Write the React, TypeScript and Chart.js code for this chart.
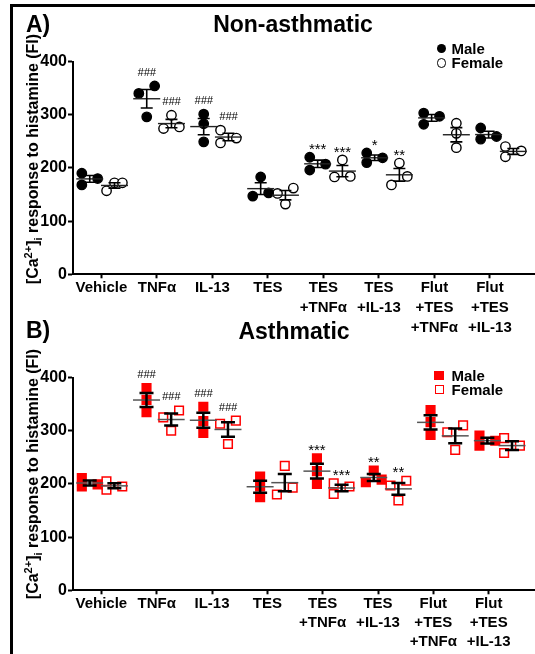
import React, { useEffect, useRef } from 'react';
import { Chart, registerables } from 'chart.js';

Chart.register(...registerables);

const FONT = '"Liberation Sans", Arial, Helvetica, sans-serif';

// ---- data ----
const categories: string[][] = [
  ['Vehicle'],
  ['TNFα'],
  ['IL-13'],
  ['TES'],
  ['TES', '+TNFα'],
  ['TES', '+IL-13'],
  ['Flut', '+TES', '+TNFα'],
  ['Flut', '+TES', '+IL-13'],
];

const nonAsthmaticMale: number[][] = [
  [190, 168, 180], [340, 354, 296], [301, 283, 249], [183, 147, 153],
  [220, 196, 207], [228, 210, 219], [303, 282, 297], [275, 254, 259],
];
const nonAsthmaticFemale: number[][] = [
  [157, 172, 172], [274, 299, 277], [271, 256, 247], [152, 132, 162],
  [215, 183, 184], [209, 168, 184], [284, 265, 238], [240, 221, 232],
];
const asthmaticMale: number[][] = [
  [211, 195, 199], [380, 358, 335], [345, 318, 296], [214, 195, 175],
  [248, 224, 200], [203, 225, 208], [339, 316, 292], [291, 272, 281],
];
const asthmaticFemale: number[][] = [
  [189, 205, 195], [325, 300, 338], [313, 275, 319], [180, 193, 234],
  [201, 181, 195], [197, 169, 206], [297, 310, 264], [286, 258, 272],
];

const nonAsthmaticMaleMarks = ['', '###', '###', '', '***', '*', '', ''];
const nonAsthmaticFemaleMarks = ['', '###', '###', '', '***', '**', '', ''];
const asthmaticMaleMarks = ['', '###', '###', '', '***', '**', '', ''];
const asthmaticFemaleMarks = ['', '###', '###', '', '***', '**', '', ''];

const yTickValues = [0, 100, 200, 300, 400];

// ---- layout constants ----
const CANVAS_W = 580;
const CANVAS_H = 345;
const Y_AXIS_W = 73;
const PAD_TOP = 61.5;
const X_AXIS_H = 70.7;
const X_MIN = -0.511;
const X_MAX = 8.28;
const TICK_STEP = 0.974;
const TICK_SHIFT = -0.012;
const SEX_OFFSET = 0.217;
const SLOT_STEP = 0.139;

type PanelStyle = {
  shape: 'circle' | 'rect';
  maleFill: string;
  femaleFill: string;
  stroke: string;
  radius: number;
  border: number;
  threshold: number;
  meanColor: string;
  meanWidth: number;
  barWidth: number;
  capHalf: number;
  meanHalf: number;
  markerHalf: number;
  lineHeight: number;
};

const circleStyle: PanelStyle = {
  shape: 'circle', maleFill: '#000', femaleFill: '#fff', stroke: '#000',
  radius: 4.7, border: 1.4, threshold: 17,
  meanColor: '#222', meanWidth: 1.4, barWidth: 1.6, capHalf: 6, meanHalf: 13.5, markerHalf: 5,
  lineHeight: 20,
};
const squareStyle: PanelStyle = {
  shape: 'rect', maleFill: '#ff0000', femaleFill: '#fff', stroke: '#ff0000',
  radius: 6.1, border: 1.5, threshold: 15,
  meanColor: '#555', meanWidth: 1.5, barWidth: 2.5, capHalf: 7, meanHalf: 13.5, markerHalf: 5,
  lineHeight: 19,
};

function slotsFor(vals: number[], thr: number): number[] {
  const order = vals.map((_, k) => k).sort((a, b) => vals[a] - vals[b]);
  const col: number[] = new Array(vals.length).fill(0);
  const last: number[] = [];
  for (const k of order) {
    let c = 0;
    while (last[c] !== undefined && vals[k] - last[c] < thr) c++;
    col[k] = c;
    last[c] = vals[k];
  }
  const isolated = vals.map((v, k) => vals.every((w, j) => j === k || Math.abs(w - v) >= thr));
  const used = Array.from(new Set(col.filter((_, k) => !isolated[k]))).sort();
  const n = used.length;
  return col.map((c, k) => {
    if (isolated[k] || n <= 1) return 0;
    const idx = used.indexOf(c);
    if (n === 2) return idx === 0 ? -1 : 1;
    return idx - (n - 1) / 2;
  });
}

function makePanel(
  canvas: HTMLCanvasElement,
  male: number[][],
  female: number[][],
  maleMarks: string[],
  femaleMarks: string[],
  st: PanelStyle,
) {
  const toPoints = (groups: number[][], off: number) =>
    groups.flatMap((vals, i) => {
      const s = slotsFor(vals, st.threshold);
      return vals.map((v, k) => ({ x: i + off + s[k] * SLOT_STEP, y: v }));
    });

  const statsPlugin = {
    id: 'groupStats',
    afterDatasetsDraw(chart: any) {
      const ctx: CanvasRenderingContext2D = chart.ctx;
      const xs = chart.scales.x;
      const ys = chart.scales.y;
      ctx.save();
      const sets: [number[][], number, string[]][] = [
        [male, -SEX_OFFSET, maleMarks],
        [female, SEX_OFFSET, femaleMarks],
      ];
      sets.forEach(([groups, off, marks]) => {
        groups.forEach((vals, i) => {
          const n = vals.length;
          const mean = vals.reduce((a, b) => a + b, 0) / n;
          const sd = Math.sqrt(vals.reduce((a, b) => a + (b - mean) ** 2, 0) / (n - 1));
          const sem = sd / Math.sqrt(n);
          const cx = xs.getPixelForValue(i + off);
          const py = ys.getPixelForValue(mean);
          const pTop = ys.getPixelForValue(mean + sem);
          const pBot = ys.getPixelForValue(mean - sem);
          ctx.strokeStyle = st.meanColor;
          ctx.lineWidth = st.meanWidth;
          ctx.beginPath();
          ctx.moveTo(cx - st.meanHalf, py);
          ctx.lineTo(cx + st.meanHalf, py);
          ctx.stroke();
          ctx.strokeStyle = '#000';
          ctx.lineWidth = st.barWidth;
          ctx.beginPath();
          ctx.moveTo(cx, pTop);
          ctx.lineTo(cx, pBot);
          ctx.moveTo(cx - st.capHalf, pTop);
          ctx.lineTo(cx + st.capHalf, pTop);
          ctx.moveTo(cx - st.capHalf, pBot);
          ctx.lineTo(cx + st.capHalf, pBot);
          ctx.stroke();
          const mark = marks[i];
          if (mark) {
            const topPx = ys.getPixelForValue(Math.max(...vals)) - st.markerHalf;
            const isHash = mark[0] === '#';
            ctx.fillStyle = '#000';
            ctx.textAlign = 'center';
            ctx.textBaseline = 'alphabetic';
            ctx.font = isHash ? `italic 11px ${FONT}` : `15px ${FONT}`;
            ctx.fillText(mark, cx, isHash ? topPx - 5 : topPx + 1.6);
          }
        });
      });
      ctx.restore();
    },
  };

  return new Chart(canvas, {
    type: 'scatter',
    data: {
      datasets: [
        {
          label: 'Male',
          data: toPoints(male, -SEX_OFFSET),
          pointStyle: st.shape,
          pointRadius: st.radius,
          backgroundColor: st.maleFill,
          borderColor: st.stroke,
          borderWidth: st.border,
        },
        {
          label: 'Female',
          data: toPoints(female, SEX_OFFSET),
          pointStyle: st.shape,
          pointRadius: st.radius,
          backgroundColor: st.femaleFill,
          borderColor: st.stroke,
          borderWidth: st.border,
        },
      ],
    },
    options: {
      responsive: false,
      animation: false,
      events: [],
      layout: { padding: { top: PAD_TOP, left: 0, right: 0, bottom: 0 } },
      plugins: { legend: { display: false }, tooltip: { enabled: false } },
      scales: {
        x: {
          type: 'linear',
          min: X_MIN,
          max: X_MAX,
          bounds: 'data',
          afterBuildTicks: (scale: any) => {
            scale.ticks = categories.map((_, i) => ({ value: i * TICK_STEP + TICK_SHIFT }));
          },
          afterFit: (scale: any) => {
            scale.height = X_AXIS_H;
          },
          ticks: {
            autoSkip: false,
            maxRotation: 0,
            minRotation: 0,
            padding: 0,
            color: '#000',
            font: { family: FONT, size: 15, weight: 'bold', lineHeight: st.lineHeight / 15 },
            callback: (_v: any, idx: number) => categories[idx],
          },
          grid: {
            display: true,
            drawOnChartArea: false,
            drawTicks: true,
            tickLength: 4,
            tickWidth: 2,
            tickColor: '#000',
          },
          border: { display: true, color: '#000', width: 2 },
        },
        y: {
          min: 0,
          max: 400,
          afterBuildTicks: (scale: any) => {
            scale.ticks = yTickValues.map((v) => ({ value: v }));
          },
          afterFit: (scale: any) => {
            scale.width = Y_AXIS_W;
          },
          ticks: {
            padding: 1,
            color: '#000',
            font: { family: FONT, size: 16, weight: 'bold' },
          },
          grid: {
            display: true,
            drawOnChartArea: false,
            drawTicks: true,
            tickLength: 5,
            tickWidth: 2,
            tickColor: '#000',
          },
          border: { display: true, color: '#000', width: 2 },
        },
      },
    } as any,
    plugins: [statsPlugin as any],
  });
}

const abs = (s: React.CSSProperties): React.CSSProperties => ({ position: 'absolute', ...s });

function YTitle({ cy }: { cy: number }) {
  return (
    <div
      style={abs({
        left: 33,
        top: cy,
        transform: 'translate(-50%, -50%) rotate(-90deg)',
        whiteSpace: 'nowrap',
        fontWeight: 'bold',
        fontSize: 16,
        lineHeight: '16px',
      })}
    >
      [Ca<sup style={{ fontSize: 11, lineHeight: 0 }}>2+</sup>]
      <sub style={{ fontSize: 11, lineHeight: 0 }}>i</sub> response to histamine (FI)
    </div>
  );
}

export default function App() {
  const topRef = useRef<HTMLCanvasElement>(null);
  const botRef = useRef<HTMLCanvasElement>(null);

  useEffect(() => {
    const c1 = makePanel(
      topRef.current!, nonAsthmaticMale, nonAsthmaticFemale,
      nonAsthmaticMaleMarks, nonAsthmaticFemaleMarks, circleStyle,
    );
    const c2 = makePanel(
      botRef.current!, asthmaticMale, asthmaticFemale,
      asthmaticMaleMarks, asthmaticFemaleMarks, squareStyle,
    );
    return () => {
      c1.destroy();
      c2.destroy();
    };
  }, []);

  const heading = (t: number, extra: React.CSSProperties): React.CSSProperties =>
    abs({ top: t, fontSize: 23, fontWeight: 'bold', lineHeight: '23px', whiteSpace: 'nowrap', ...extra });
  const legText = (t: number): React.CSSProperties =>
    abs({ left: 451.5, top: t, fontSize: 15, fontWeight: 'bold', lineHeight: '15px' });

  return (
    <div
      style={{
        position: 'fixed', left: 0, top: 0, width: 535, height: 654,
        overflow: 'hidden', background: '#fff', fontFamily: FONT, color: '#000',
      }}
    >
      <div style={abs({ left: 10, top: 4, width: 800, height: 900, border: '3px solid #000' })} />

      <canvas ref={topRef} width={CANVAS_W} height={CANVAS_H} style={abs({ left: 0, top: 0 })} />
      <canvas ref={botRef} width={CANVAS_W} height={CANVAS_H} style={abs({ left: 0, top: 315.6 })} />

      <div style={heading(12.5, { left: 26 })}>A)</div>
      <div style={heading(12.5, { left: 293, transform: 'translateX(-50%)' })}>Non-asthmatic</div>
      <div style={heading(318.5, { left: 26 })}>B)</div>
      <div style={heading(319.5, { left: 294, transform: 'translateX(-50%)' })}>Asthmatic</div>

      <YTitle cy={159} />
      <YTitle cy={474} />

      {/* legend top */}
      <div style={abs({ left: 436.5, top: 43.8, width: 9.5, height: 9.5, borderRadius: '50%', background: '#000' })} />
      <div style={abs({ left: 436.5, top: 58.2, width: 9.5, height: 9.5, borderRadius: '50%', background: '#fff', border: '1.4px solid #000', boxSizing: 'border-box' })} />
      <div style={legText(40.5)}>Male</div>
      <div style={legText(55)}>Female</div>

      {/* legend bottom */}
      <div style={abs({ left: 434, top: 370.5, width: 9.5, height: 9.5, background: '#ff0000' })} />
      <div style={abs({ left: 434.5, top: 384.8, width: 9.5, height: 9.5, background: '#fff', border: '1.6px solid #ff0000', boxSizing: 'border-box' })} />
      <div style={legText(367.5)}>Male</div>
      <div style={legText(381.8)}>Female</div>
    </div>
  );
}
